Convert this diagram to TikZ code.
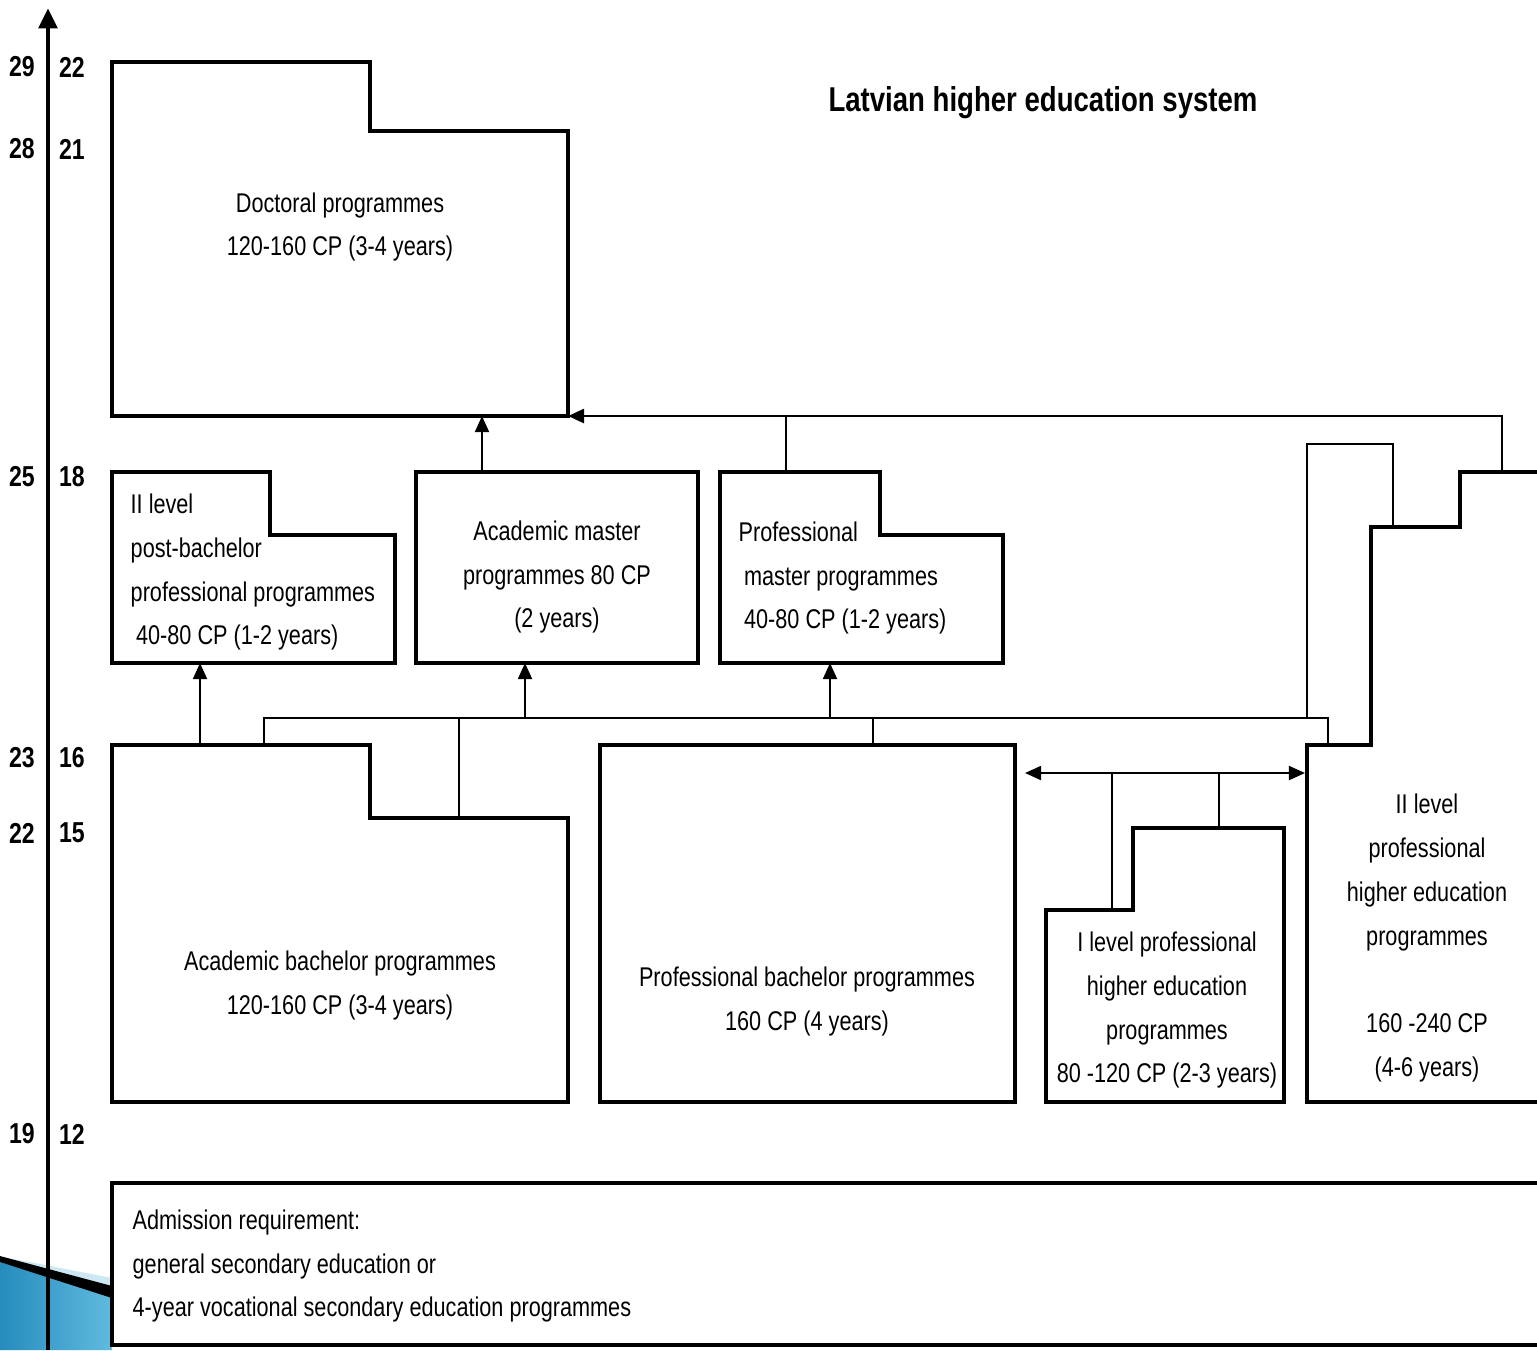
\documentclass[tikz,border=0pt]{standalone}
\usepackage{fontspec}
\setmainfont{Liberation Sans}[FakeStretch=0.8]
\usetikzlibrary{arrows.meta}

\definecolor{decodark}{RGB}{38,140,190}
\definecolor{decolight}{RGB}{96,186,222}
\definecolor{decoglow}{RGB}{205,232,242}

\tikzset{
  progbox/.style={line width=1.3pt, line join=miter},
  link/.style={line width=0.6pt},
  toplink/.style={line width=0.8pt},
  up/.style={-{Triangle[width=4pt,length=4.6pt]}},
  txt/.style={font=\fontsize{7.7}{12.5}\selectfont, align=center, inner sep=0pt},
  txtl/.style={font=\fontsize{7.7}{12.5}\selectfont, align=left, inner sep=0pt},
  agelbl/.style={font=\fontsize{8.2}{9}\selectfont\bfseries, inner sep=0pt}
}

\begin{document}
\begin{tikzpicture}[x=0.01cm, y=-0.01cm]

\clip (0,0) rectangle (1537,1350);
\fill[white] (0,0) rectangle (1537,1350);

% slide decoration, bottom left
\shade[left color=decodark, right color=decolight] (0,1262) -- (112,1297) -- (112,1350) -- (0,1350) -- cycle;
\fill[decoglow] (30,1262) -- (112,1278) -- (112,1287) -- (0,1257) -- cycle;
\fill[black] (0,1256) -- (112,1286) -- (112,1298) -- (0,1262) -- cycle;

% age / years-of-schooling axis
\draw[line width=1.4pt, -{Triangle[width=5.2pt,length=5.8pt]}] (48,1350) -- (48,8);
\foreach \y/\a/\b in {67/29/22, 149/28/21, 477/25/18, 758/23/16, 833/22/15, 1134/19/12} {
  \node[agelbl] (age\a) at (22,\y) {\a};
  \node[agelbl] (yr\b) at (72,\y) {\b};
}

\node[font=\fontsize{9.8}{11}\selectfont\bfseries] (title) at (1043,103) {Latvian higher education system};

% programme boxes
\draw[progbox] (112,62) -| (370,131) -| (568,416) -| cycle;
\draw[progbox] (112,472) -| (270,535) -| (395,663) -| cycle;
\draw[progbox] (416,472) rectangle (698,663);
\draw[progbox] (720,472) -| (880,535) -| (1003,663) -| cycle;
\draw[progbox] (112,745) -| (370,818) -| (568,1102) -| cycle;
\draw[progbox] (600,745) rectangle (1015,1102);
\draw[progbox] (1046,1102) |- (1133,910) |- (1284,828) |- cycle;
\draw[progbox] (1560,1102) -| (1307,745) -| (1371,527) -| (1460,472) -- (1560,472);
\draw[progbox] (1560,1183) -| (112,1345) -- (1560,1345);

% texts
\node[txt] (doc) at (340,227) {Doctoral programmes\\120-160 CP (3-4 years)};
\node[txtl, anchor=west] (pbach) at (130,572) {II level\\post-bachelor\\professional programmes\\\hspace*{0.2em}40-80 CP (1-2 years)};
\node[txt] (amast) at (557,577) {Academic master\\programmes 80 CP\\(2 years)};
\node[txtl, anchor=west] (pmast) at (738,578) {Professional\\\hspace*{0.2em}master programmes\\\hspace*{0.2em}40-80 CP (1-2 years)};
\node[txt] (abach) at (340,985) {Academic bachelor programmes\\120-160 CP (3-4 years)};
\node[txt] (pbach2) at (807,1001) {Professional bachelor programmes\\160 CP (4 years)};
\node[txt] (lvl1) at (1167,1010) {I level professional\\higher education\\programmes\\80 -120 CP (2-3 years)};
\node[txt] (lvl2) at (1427,938) {II level\\professional\\higher education\\programmes\\[12.5pt]160 -240 CP\\(4-6 years)};
\node[txtl, anchor=west] (admit) at (132,1266) {Admission requirement:\\general secondary education or\\4-year vocational secondary education programmes};

% connection points
\coordinate (abTopA) at (200,745);
\coordinate (pbBot) at (200,663);
\coordinate (abTopB) at (264,745);
\coordinate (abStep) at (459,818);
\coordinate (amBot) at (525,663);
\coordinate (pmBot) at (830,663);
\coordinate (pbTop) at (873,745);
\coordinate (lvTwoStepA) at (1328,745);
\coordinate (lvTwoStepB) at (1393,527);
\coordinate (lvTwoTop) at (1502,472);
\coordinate (docCorner) at (568,416);
\coordinate (pmTop) at (786,472);
\coordinate (amTop) at (482,472);
\coordinate (docBot) at (482,416);
\coordinate (pbRight) at (1025,773);
\coordinate (lvTwoLeft) at (1305,773);
\coordinate (lvOneStep) at (1112,910);
\coordinate (lvOneTop) at (1219,828);

% connectors
\draw[link, up] (abTopA) -- (pbBot);
\draw[link] (abTopB) |- (lvTwoStepA |- 0,718) -- (lvTwoStepA);
\draw[link] (abStep |- 0,718) -- (abStep);
\draw[link, up] (amBot |- 0,718) -- (amBot);
\draw[link, up] (pmBot |- 0,718) -- (pmBot);
\draw[link] (pbTop |- 0,718) -- (pbTop);
\draw[link] (1307,718) |- (lvTwoStepB |- 0,444) -- (lvTwoStepB);
\draw[toplink, up] (lvTwoTop) |- (docCorner);
\draw[toplink] (pmTop) -- (pmTop |- docCorner);
\draw[link, up] (amTop) -- (docBot);
\draw[link, {Triangle[width=4pt,length=4.6pt]}-{Triangle[width=4pt,length=4.6pt]}] (pbRight) -- (lvTwoLeft);
\draw[link] (lvOneStep |- pbRight) -- (lvOneStep);
\draw[link] (lvOneTop |- pbRight) -- (lvOneTop);

\end{tikzpicture}
\end{document}
